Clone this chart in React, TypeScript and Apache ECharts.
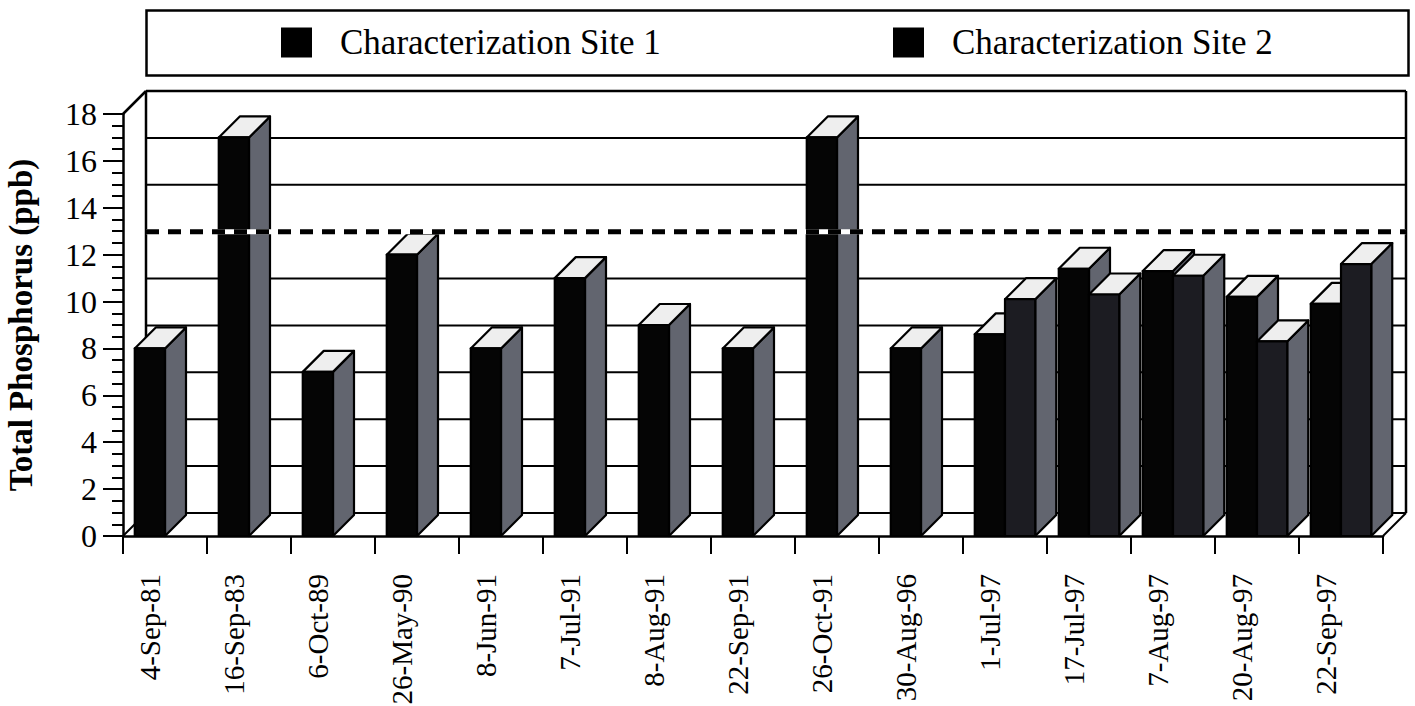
import React, { useEffect, useRef } from "react";
import * as echarts from "echarts";

// Sampling dates and total phosphorus (ppb) per site
const categories = [
  "4-Sep-81", "16-Sep-83", "6-Oct-89", "26-May-90", "8-Jun-91",
  "7-Jul-91", "8-Aug-91", "22-Sep-91", "26-Oct-91", "30-Aug-96",
  "1-Jul-97", "17-Jul-97", "7-Aug-97", "20-Aug-97", "22-Sep-97",
];
const site1Values: (number | null)[] = [8, 17, 7, 12, 8, 11, 9, 8, 17, 8, 8.6, 11.4, 11.3, 10.2, 9.9];
const site2Values: (number | null)[] = [null, null, null, null, null, null, null, null, null, null, 10.1, 10.3, 11.1, 8.3, 11.6];
const seriesNames = ["Characterization Site 1", "Characterization Site 2"];
const yMin = 0;
const yMax = 18;
const yStep = 2;
const thresholdValue = 12; // dashed reference line on the back wall

const FONT = "'Liberation Serif', 'Times New Roman', serif";
const BAR_DEPTH = 21;
const WALL_DEPTH = 23;
const SIDE_FILL = "#62656f";
const TOP_FILL = "#eeeeee";
const FRONT_FILLS = ["#050505", "#1c1c22"];

function barRenderer(slot: number) {
  return (params: any, api: any) => {
    const v = api.value(1);
    if (v == null || isNaN(v)) return null;
    const idx = api.value(0);
    const top = api.coord([idx, v]);
    const base = api.coord([idx, 0]);
    const band = api.size([1, 0])[0];
    const w = band * 0.36;
    const xl = slot === 0 ? top[0] - w : top[0];
    const xr = xl + w;
    const yT = top[1];
    const yB = base[1];
    const d = BAR_DEPTH;
    const stroke = { stroke: "#000", lineWidth: 2.2, lineJoin: "round" };
    return {
      type: "group",
      children: [
        {
          type: "polygon",
          shape: { points: [[xr, yT], [xr + d, yT - d], [xr + d, yB - d], [xr, yB]] },
          style: { fill: SIDE_FILL, ...stroke },
        },
        {
          type: "polygon",
          shape: { points: [[xl, yT], [xl + d, yT - d], [xr + d, yT - d], [xr, yT]] },
          style: { fill: TOP_FILL, ...stroke },
        },
        {
          type: "rect",
          shape: { x: xl, y: yT, width: w, height: yB - yT },
          style: { fill: FRONT_FILLS[slot], ...stroke },
        },
      ],
    };
  };
}

// Back wall, floor edge and left wall outline of the 3-D box
function frameRenderer(params: any, api: any) {
  const cs = params.coordSys;
  const x0 = cs.x;
  const x1 = cs.x + cs.width;
  const D = WALL_DEPTH;
  const yOf = (v: number) => api.coord([0, v])[1];
  const line = (a: number[], b: number[], lw = 2) => ({
    type: "line",
    shape: { x1: a[0], y1: a[1], x2: b[0], y2: b[1] },
    style: { stroke: "#000", lineWidth: lw },
  });
  const children: any[] = [];
  for (let v = yMin; v <= yMax; v += yStep) {
    const y = yOf(v) - D;
    children.push(line([x0 + D, y], [x1 + D, y], v === yMax ? 2.5 : 2));
  }
  const yTop = yOf(yMax);
  const yBot = yOf(yMin);
  children.push(line([x0 + D, yTop - D], [x0 + D, yBot - D], 2.5));
  children.push(line([x1 + D, yTop - D], [x1 + D, yBot - D], 2.5));
  children.push(line([x0, yTop], [x0 + D, yTop - D], 2.5));
  children.push(line([x0, yBot], [x0 + D, yBot - D], 2));
  children.push(line([x1, yBot], [x1 + D, yBot - D], 2));
  return { type: "group", children };
}

function thresholdRenderer(params: any, api: any) {
  const cs = params.coordSys;
  const D = WALL_DEPTH;
  const y = api.coord([0, api.value(1)])[1] - D;
  const xa = cs.x + D;
  const xb = cs.x + cs.width + D;
  return {
    type: "group",
    children: [
      { type: "line", shape: { x1: xa, y1: y, x2: xb, y2: y }, style: { stroke: "#fff", lineWidth: 5 } },
      {
        type: "line",
        shape: { x1: xa, y1: y, x2: xb, y2: y },
        style: { stroke: "#000", lineWidth: 5, lineDash: [13, 9] },
      },
    ],
  };
}

export default function App() {
  const ref = useRef<HTMLDivElement>(null);

  useEffect(() => {
    if (!ref.current) return;
    const chart = echarts.init(ref.current, null, { renderer: "svg" });
    const legendBase = {
      orient: "horizontal",
      top: 25,
      padding: 0,
      icon: "rect",
      itemWidth: 31,
      itemHeight: 30,
      selectedMode: false,
      itemStyle: { color: "#000" },
      textStyle: { fontFamily: FONT, fontSize: 35, color: "#000", padding: [0, 0, 0, 23] },
    };
    chart.setOption({
      animation: false,
      backgroundColor: "#fff",
      textStyle: { fontFamily: FONT },
      graphic: [
        {
          type: "rect",
          left: 144,
          top: 8,
          shape: { width: 1262, height: 65 },
          style: { fill: "none", stroke: "#000", lineWidth: 2.5 },
        },
      ],
      legend: [
        { ...legendBase, left: 281, data: [seriesNames[0]] },
        { ...legendBase, left: 893, data: [seriesNames[1]] },
      ],
      grid: {
        left: 123,
        right: 32,
        top: 114,
        bottom: 170,
        containLabel: false,
        outerBoundsMode: "none",
      },
      xAxis: {
        type: "category",
        data: categories,
        boundaryGap: true,
        axisLine: { show: true, lineStyle: { color: "#000", width: 2.5 } },
        axisTick: { show: true, length: 18, lineStyle: { color: "#000", width: 2 } },
        axisLabel: {
          rotate: 90,
          margin: 38,
          interval: 0,
          fontFamily: FONT,
          fontSize: 29,
          color: "#000",
          verticalAlign: "bottom",
          lineHeight: 30,
        },
        splitLine: { show: false },
      },
      yAxis: {
        type: "value",
        min: yMin,
        max: yMax,
        interval: yStep,
        name: "Total Phosphorus (ppb)",
        nameLocation: "middle",
        nameRotate: 90,
        nameGap: 86,
        nameTextStyle: { fontFamily: FONT, fontSize: 33, fontWeight: "bold", color: "#000" },
        axisLine: { show: true, lineStyle: { color: "#000", width: 2.5 } },
        axisTick: { show: true, length: 20, lineStyle: { color: "#000", width: 2 } },
        minorTick: { show: true, splitNumber: 4, length: 11, lineStyle: { color: "#000", width: 2 } },
        axisLabel: { margin: 26, fontFamily: FONT, fontSize: 32, color: "#000" },
        splitLine: { show: false },
      },
      series: [
        {
          type: "custom",
          name: "frame",
          renderItem: frameRenderer,
          data: [[0, 0]],
          encode: { x: 0, y: 1 },
          silent: true,
          z: 1,
        },
        {
          type: "custom",
          name: seriesNames[0],
          renderItem: barRenderer(0),
          data: site1Values.map((v, i) => [i, v]),
          encode: { x: 0, y: 1 },
          itemStyle: { color: "#000" },
          z: 2,
        },
        {
          type: "custom",
          name: seriesNames[1],
          renderItem: barRenderer(1),
          data: site2Values.map((v, i) => [i, v]),
          encode: { x: 0, y: 1 },
          itemStyle: { color: "#000" },
          z: 3,
        },
        {
          type: "custom",
          name: "threshold",
          renderItem: thresholdRenderer,
          data: [[0, thresholdValue]],
          encode: { x: 0, y: 1 },
          silent: true,
          z: 4,
        },
      ],
    });
    return () => chart.dispose();
  }, []);

  return (
    <div
      ref={ref}
      style={{ position: "fixed", left: 0, top: 0, width: 1415, height: 706, background: "#fff" }}
    />
  );
}
